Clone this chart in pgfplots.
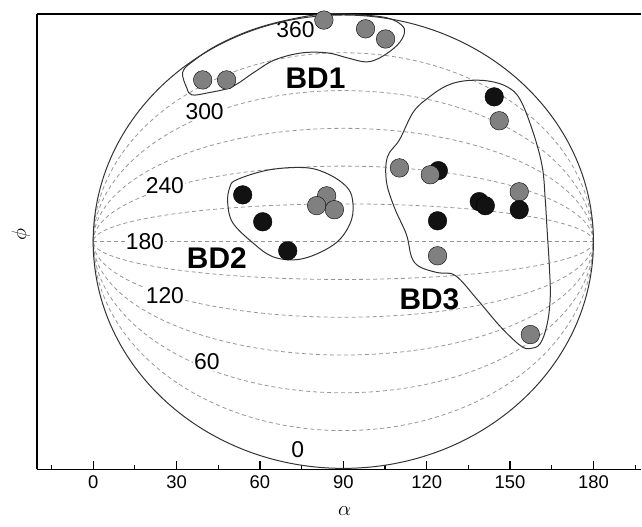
\documentclass[border=0pt]{standalone}
\usepackage{fontspec}
\setmainfont{Liberation Sans}
\usepackage{pgfplots}
\pgfplotsset{compat=1.18}
\usepackage{pgfplotstable}

\definecolor{ptgray}{RGB}{128,128,128}
\definecolor{ptblack}{RGB}{18,18,18}
\definecolor{gridgray}{RGB}{150,150,150}

% alpha, phi of the points
\pgfplotstableread{
alpha phi
153.3 235.7
}\grayunder
\pgfplotstableread{
alpha phi
53.8 220.6
61.0 196.7
70.0 172.6
144.3 324.2
124.2 241.0
138.9 217.9
141.1 214.7
153.3 215.7
123.9 197.9
}\blackpts
\pgfplotstableread{
alpha phi
83.0 356.5
98.0 349.7
105.2 343.3
39.4 335.3
48.0 325.2
84.0 216.5
80.4 208.8
86.8 205.4
146.1 302.8
110.2 240.1
121.3 236.7
123.9 167.9
157.3 68.9
}\graypts

\begin{document}
\begin{tikzpicture}
\begin{axis}[
  scale only axis, width=605.3bp, height=456bp,
  xmin=-20.3, xmax=197.2, ymin=-90.4, ymax=90.4,
  clip=false,
  separate axis lines,
  axis x line*=box, axis y line*=left,
  axis line style={line width=1.5bp, black},
  xtick={0,30,...,180}, minor xtick={-15,15,...,195},
  ytick=\empty,
  xtick pos=left,
  tick align=inside,
  major tick length=8bp, minor tick length=4bp,
  every tick/.style={line width=1.2bp, black},
  xticklabel style={font=\fontsize{18.5}{20}\selectfont, yshift=-3bp},
  /pgf/number format/assume math mode=true,
]
% phi grid lines
\begin{scope}[gridgray, line width=0.8bp, dash pattern=on 4bp off 3bp]
\draw (axis cs:90,0) ellipse [x radius=90, y radius=75];
\draw (axis cs:90,0) ellipse [x radius=90, y radius=60];
\draw (axis cs:90,0) ellipse [x radius=90, y radius=45];
\draw (axis cs:90,0) ellipse [x radius=90, y radius=30];
\draw (axis cs:90,0) ellipse [x radius=90, y radius=15];
\draw (axis cs:0,0) -- (axis cs:180,0);
\end{scope}
% phi labels
\begin{scope}[every node/.style={fill=white, inner sep=1bp, font=\fontsize{23}{24}\selectfont}]
\node at (axis cs:72.8,84.1) {360};
\node at (axis cs:40.1,51.5) {300};
\node at (axis cs:25.8,22.2) {240};
\node at (axis cs:18.6,0) {180};
\node at (axis cs:25.8,-21.4) {120};
\node at (axis cs:40.9,-47.6) {60};
\node at (axis cs:73.6,-82.5) {0};
\end{scope}
% outer circle
\draw[line width=1bp, black!80] (axis cs:90,0) ellipse [x radius=90, y radius=90];
% domain outlines
\begin{scope}[shift={(axis cs:-33.525,95.956)}, x=1bp, y=-1bp, line width=1bp, black!80]
\draw plot[smooth cycle, tension=0.6] coordinates {(183,72) (187,88) (192,95) (208,93) (232,87) (255,72) (275,60) (302,53) (328,53) (348,58) (367,62) (382,57) (398,45) (405,33) (402,25) (388,18) (362,15) (325,14) (288,20) (252,30) (218,45) (195,60)};
\draw plot[smooth cycle, tension=0.6] coordinates {(237,180) (270,170) (307,168) (330,175) (347,187) (353,200) (352,220) (340,240) (320,253) (297,260) (273,257) (253,243) (233,223) (228,203) (230,188)};
\draw plot[smooth cycle, tension=0.6] coordinates {(388,157) (400,140) (414,112) (430,97) (447,86) (465,81) (488,81) (508,87) (521,100) (534,133) (543,167) (546,200) (548,233) (550,265) (551,297) (548,324) (541,344) (531,349) (521,346) (501,327) (478,300) (456,276) (438,273) (420,267) (412,257) (407,235) (395,208) (387,182)};
\end{scope}
% domain names
\begin{scope}[every node/.style={font=\bfseries\fontsize{30}{30}\selectfont}]
\node at (axis cs:80.0,65.0) {BD1};
\node at (axis cs:44.5,-6.7) {BD2};
\node at (axis cs:121.0,-23.0) {BD3};
\end{scope}
% points
\addplot[only marks, mark=*, mark size=9.3bp, mark options={draw=none, fill=ptgray}]
  table[x=alpha, y expr=(\thisrow{phi}-180)/180*sqrt(8100-(\thisrow{alpha}-90)^2)] {\grayunder};
\addplot[only marks, mark=*, mark size=9.3bp, mark options={draw=none, fill=ptblack}]
  table[x=alpha, y expr=(\thisrow{phi}-180)/180*sqrt(8100-(\thisrow{alpha}-90)^2)] {\blackpts};
\addplot[only marks, mark=*, mark size=9.3bp, mark options={draw=none, fill=ptgray}]
  table[x=alpha, y expr=(\thisrow{phi}-180)/180*sqrt(8100-(\thisrow{alpha}-90)^2)] {\graypts};
% axis titles
\node[font=\fontsize{20}{20}\selectfont] at (axis cs:90.5,-107.1) {$\alpha$};
\node[font=\fontsize{20}{20}\selectfont, rotate=90] at (axis cs:-26.0,2.8) {$\phi$};
\coordinate (bbsw) at (axis cs:-33.525,-113.0);
\coordinate (bbne) at (axis cs:197.2,95.956);
\end{axis}
\path (bbsw) rectangle (bbne);
\end{tikzpicture}
\end{document}
